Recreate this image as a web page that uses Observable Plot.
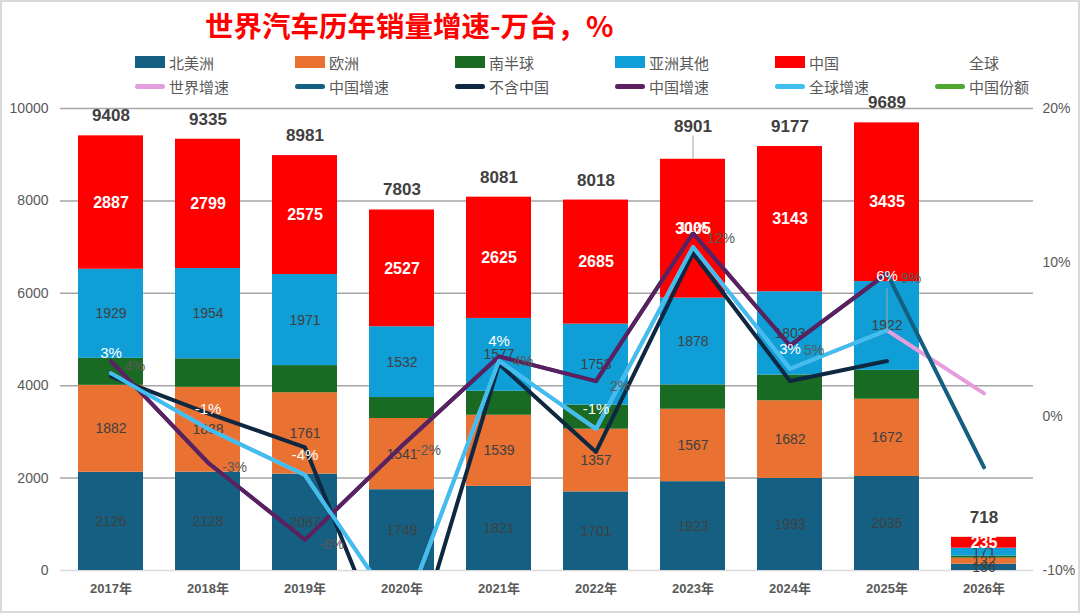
<!DOCTYPE html>
<html><head><meta charset="utf-8">
<script src="https://cdn.jsdelivr.net/npm/d3@7"></script>
<script src="https://cdn.jsdelivr.net/npm/@observablehq/plot@0.6"></script>
<style>
body{margin:0;background:#fff;font-family:"Liberation Sans","Noto Sans CJK SC",sans-serif;}
#wrap{position:relative;width:1080px;height:613px;overflow:hidden;background:#fff}
#frame{position:absolute;left:0;top:0;right:0;bottom:0;border:2px solid #d9d9d9;pointer-events:none}
#title{position:absolute;left:205px;top:4px;font:bold 28.5px "Noto Sans CJK SC",sans-serif;color:#ff0000;white-space:nowrap}
.row{position:absolute;left:135px;height:20px;display:flex}
.item{width:160px;display:flex;align-items:center;font:15px "Noto Sans CJK SC",sans-serif;color:#595959;white-space:nowrap}
.sw{width:30px;height:12px;margin-right:4px;flex:none}
.ln{width:30px;height:5px;border-radius:3px;margin-right:4px;flex:none}
</style></head>
<body>
<div id="wrap">
  <div id="chart"></div>
  <div id="title">世界汽车历年销量增速-万台，%</div>
  <div class="row" id="row1" style="top:52px"></div>
  <div class="row" id="row2" style="top:76px"></div>
  <div id="frame"></div>
</div>
<script>
// ---- data ----
const years = ["2017年","2018年","2019年","2020年","2021年","2022年","2023年","2024年","2025年","2026年"];
const regions = ["北美洲","欧洲","南半球","亚洲其他","中国"];
const northAmerica = [2126,2128,2087,1749,1821,1701,1923,1993,2035,136];
const europe       = [1882,1838,1761,1541,1539,1357,1567,1682,1672,132];
const southern     = [584,616,587,454,519,522,528,556,625,44];
const asiaOther    = [1929,1954,1971,1532,1577,1753,1878,1803,1922,171];
const china        = [2887,2799,2575,2527,2625,2685,3005,3143,3435,235];
const totals       = [9408,9335,8981,7803,8081,8018,8901,9177,9689,718];
// growth rates, %
const worldGrowth   = [2.8,-0.8,-3.8,-13.1,3.6,-0.8,11.0,3.1,5.6,1.5];   // 世界增速
const chinaGrowthA  = [3.6,-3.0,-8.0,-1.9,3.9,2.3,11.9,4.6,9.3,-3.3];    // 中国增速
const exChinaGrowth = [2.6,0.2,-2.0,-17.6,3.4,-2.3,10.6,2.3,3.6,null];   // 不含中国
const chinaGrowthB  = [3.6,-3.0,-8.0,-1.9,3.9,2.3,11.9,4.6,9.3,null];    // 中国增速
const globalGrowth  = [2.8,-0.8,-3.8,-13.1,3.6,-0.8,11.0,3.1,5.6,null];  // 全球增速
const leftTicks = [0,2000,4000,6000,8000,10000];
const rightTicks = [-10,0,10,20];

const regionColors = ["#156082","#E97132","#196B24","#0F9ED5","#FF0000"];
const lineSeries = [
  {name:"世界增速", values:worldGrowth,   color:"#E49EDD"},
  {name:"中国增速", values:chinaGrowthA,  color:"#156082"},
  {name:"不含中国", values:exChinaGrowth, color:"#0E2841"},
  {name:"中国增速", values:chinaGrowthB,  color:"#5C1F5F"},
  {name:"全球增速", values:globalGrowth,  color:"#3FBFEF"}
];

// ---- tables ----
const regionValues = [northAmerica, europe, southern, asiaOther, china];
const stack = [];
years.forEach((y,i) => regions.forEach((r,j) => stack.push({year:y, region:r, value:regionValues[j][i]})));
const totalRows = years.map((y,i) => ({year:y, total:totals[i]}));
// secondary axis (-10%..20%) mapped onto primary (0..10000)
const toLeft = p => (p == null ? NaN : (p + 10) / 30 * 10000);
const seriesRows = s => years.map((y,i) => ({year:y, v:s.values[i]}));

// labels moved by hand in the original (with leader lines)
const movedTotal = "2023年", movedGrowth = "2025年";

const font = '"Liberation Sans","Noto Sans CJK SC",sans-serif';
const marks = [
  Plot.ruleY(leftTicks.filter(d => d > 0), {stroke:"#a6a6a6", strokeWidth:1.5}),
  Plot.ruleY([0], {stroke:"#d9d9d9", strokeWidth:1.5}),
  Plot.barY(stack, {x:"year", y:"value", fill:"region", order:regions}),
  Plot.text(stack, Plot.stackY({x:"year", y:"value", z:"region", order:regions,
    text: d => (d.region === "中国" || d.region === "南半球") ? "" : String(d.value),
    fill:"#404040", fontSize:14})),
  Plot.text(stack, Plot.stackY({x:"year", y:"value", z:"region", order:regions,
    text: d => d.region === "中国" ? String(d.value) : "",
    fill:"white", fontSize:16, fontWeight:"bold"})),
  Plot.text(totalRows.filter(d => d.year !== movedTotal), {x:"year", y:"total", text: d => String(d.total), dy:-20,
    fill:"#404040", fontSize:17, fontWeight:"bold"}),
  Plot.ruleX(totalRows.filter(d => d.year === movedTotal), {x:"year", y1:"total", y2: d => d.total + 500,
    stroke:"#a6a6a6", strokeWidth:1}),
  Plot.text(totalRows.filter(d => d.year === movedTotal), {x:"year", y:"total", text: d => String(d.total), dy:-33,
    fill:"#404040", fontSize:17, fontWeight:"bold"})
];
lineSeries.forEach(s => {
  marks.push(Plot.line(seriesRows(s), {x:"year", y: d => toLeft(d.v), stroke:s.color,
    strokeWidth:4, clip:true, curve:"linear"}));
});
// purple 中国增速 labels (gray, right of point)
marks.push(Plot.text(seriesRows(lineSeries[3]).filter(d => d.v != null), {x:"year", y: d => toLeft(d.v),
  text: d => Math.round(d.v) + "%", dx:14, dy:5, textAnchor:"start", fill:"#595959", fontSize:14, clip:true}));
// 全球增速 labels (white, above point)
const globalRows = seriesRows(lineSeries[4]).filter(d => d.v != null);
marks.push(Plot.text(globalRows.filter(d => d.year !== movedGrowth), {x:"year", y: d => toLeft(d.v),
  text: d => Math.round(d.v) + "%", dy:-20, fill:"white", fontSize:15, clip:true}));
marks.push(Plot.ruleX(globalRows.filter(d => d.year === movedGrowth), {x:"year", y1: d => toLeft(d.v),
  y2: d => toLeft(d.v) + 900, stroke:"#a6a6a6", strokeWidth:1}));
marks.push(Plot.text(globalRows.filter(d => d.year === movedGrowth), {x:"year", y: d => toLeft(d.v),
  text: d => Math.round(d.v) + "%", dy:-54, fill:"white", fontSize:15}));
// axes
marks.push(Plot.axisY(leftTicks, {anchor:"left", tickSize:0, tickPadding:12, fontSize:14,
  color:"#595959", tickFormat: d => String(d), label:null}));
marks.push(Plot.axisY(rightTicks.map(toLeft), {anchor:"right", tickSize:0, tickPadding:9, fontSize:14,
  color:"#595959", tickFormat: d => Math.round(d / 10000 * 30 - 10) + "%", label:null}));
marks.push(Plot.axisX({tickSize:0, tickPadding:13, fontSize:13, fontWeight:"bold", color:"#595959", label:null}));

const chart = Plot.plot({
  width:1080, height:613,
  marginTop:108, marginBottom:43, marginLeft:60, marginRight:47,
  x:{domain:years, paddingInner:0.335, paddingOuter:0.1675, align:0.5, label:null},
  y:{domain:[0,10000], label:null},
  color:{domain:regions, range:regionColors},
  style:{fontFamily:font, background:"transparent", overflow:"visible"},
  marks
});
document.getElementById("chart").appendChild(chart);

// ---- legend ----
const row1 = [...regions.map((r,i) => ({name:r, color:regionColors[i], type:"sw"})), {name:"全球", color:null, type:"sw"}];
const row2 = [...lineSeries.map(s => ({name:s.name, color:s.color, type:"ln"})), {name:"中国份额", color:"#4EA72E", type:"ln"}];
function fill(id, items){
  const el = document.getElementById(id);
  items.forEach(it => {
    const d = document.createElement("div"); d.className = "item";
    const sw = document.createElement("span"); sw.className = it.type;
    sw.style.background = it.color || "transparent";
    d.appendChild(sw);
    const t = document.createElement("span"); t.textContent = it.name; d.appendChild(t);
    el.appendChild(d);
  });
}
fill("row1", row1); fill("row2", row2);
</script>
</body></html>
